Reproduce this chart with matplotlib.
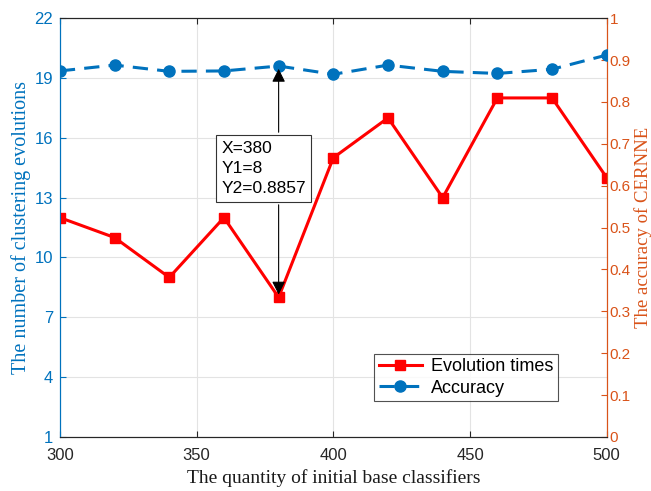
import numpy as np
import matplotlib
matplotlib.use("Agg")
import matplotlib.pyplot as plt

# data
quantity = [300, 320, 340, 360, 380, 400, 420, 440, 460, 480, 500]
evolutions = [12, 11, 9, 12, 8, 15, 17, 13, 18, 18, 14]
accuracy = [0.874, 0.888, 0.873, 0.874, 0.8857, 0.866, 0.888, 0.873, 0.868, 0.878, 0.912]

left_ticks = [1, 4, 7, 10, 13, 16, 19, 22]
right_ticks = [0, 0.1, 0.2, 0.3, 0.4, 0.5, 0.6, 0.7, 0.8, 0.9, 1]
right_ticklabels = ["0", "0.1", "0.2", "0.3", "0.4", "0.5", "0.6", "0.7", "0.8", "0.9", "1"]

blue = "#0072BD"
orange = "#D95319"
tick_font = "Liberation Sans"
label_font = "Liberation Serif"

fig = plt.figure(figsize=(6.51, 4.91), dpi=100)
ax = fig.add_axes([0.092, 0.110, 0.840, 0.853])
ax2 = ax.twinx()

l1, = ax.plot(quantity, evolutions, color="red", lw=2.2, marker="s", ms=7,
              label="Evolution times", zorder=3)
l2, = ax2.plot(quantity, accuracy, color=blue, lw=2.2, ls=(0, (5, 3)), marker="o", ms=8,
               label="Accuracy", zorder=3)

ax.set_xlim(300, 500)
ax.set_ylim(1, 22)
ax2.set_ylim(0, 1)
ax.set_xticks([300, 350, 400, 450, 500])
ax.set_yticks(left_ticks)
ax2.set_yticks(right_ticks)
ax2.set_yticklabels(right_ticklabels)

ax.grid(True, color="#e3e3e3", lw=0.8)
ax.set_axisbelow(True)

for a in (ax, ax2):
    a.tick_params(direction="in", labelsize=12, length=4)
    for lab in a.get_xticklabels() + a.get_yticklabels():
        lab.set_fontfamily(tick_font)
ax.tick_params(axis="y", colors=blue, pad=5)
ax.tick_params(axis="x", colors="#262626", top=True, pad=8)
ax2.tick_params(axis="y", colors=orange, pad=2, labelsize=11)
ax.spines["left"].set_color(blue)
ax2.spines["left"].set_color(blue)
ax2.spines["right"].set_color(orange)
ax.spines["right"].set_color(orange)
for a in (ax, ax2):
    a.spines["top"].set_color("#262626")
    a.spines["bottom"].set_color("#262626")
    for s in a.spines.values():
        s.set_linewidth(0.8)

ax.set_xlabel("The quantity of initial base classifiers", fontfamily=label_font,
              fontsize=14, color="#1a1a1a", labelpad=4)
ax.set_ylabel("The number of clustering evolutions", fontfamily=label_font,
              fontsize=14.5, color=blue, labelpad=2)
ax2.set_ylabel("The accuracy of CERNNE", fontfamily=label_font,
               fontsize=13.5, color=orange)
ax2.yaxis.set_label_coords(1.05, 0.5)

# data tip box with arrows
box_top, box_bot = 0.721, 0.561
ax2.annotate("", xy=(380, accuracy[4]), xytext=(380, box_top),
             xycoords="data", textcoords=("data", "axes fraction"),
             arrowprops=dict(arrowstyle="-|>", color="black", lw=0.8, mutation_scale=20))
ax2.annotate("", xy=(380, (evolutions[4] - 1) / 21), xytext=(380, box_bot),
             xycoords=("data", "axes fraction"), textcoords=("data", "axes fraction"),
             arrowprops=dict(arrowstyle="-|>", color="black", lw=0.8, mutation_scale=20))
ax2.text(0.295, 0.641, "X=380\nY1=8\nY2=0.8857", transform=ax2.transAxes,
         fontfamily=tick_font, fontsize=12.5, va="center", ha="left", linespacing=1.45,
         bbox=dict(boxstyle="square,pad=0.3", fc="white", ec="#333333", lw=0.8), zorder=5)

leg = ax2.legend([l1, l2], ["Evolution times", "Accuracy"], loc="lower right",
                 bbox_to_anchor=(0.927, 0.064), fancybox=False, edgecolor="#262626",
                 prop={"family": tick_font, "size": 13}, handlelength=2.4,
                 borderpad=0.25, labelspacing=0.25, handletextpad=0.5)
leg.get_frame().set_linewidth(0.8)

fig.savefig("out.png", dpi=100)
